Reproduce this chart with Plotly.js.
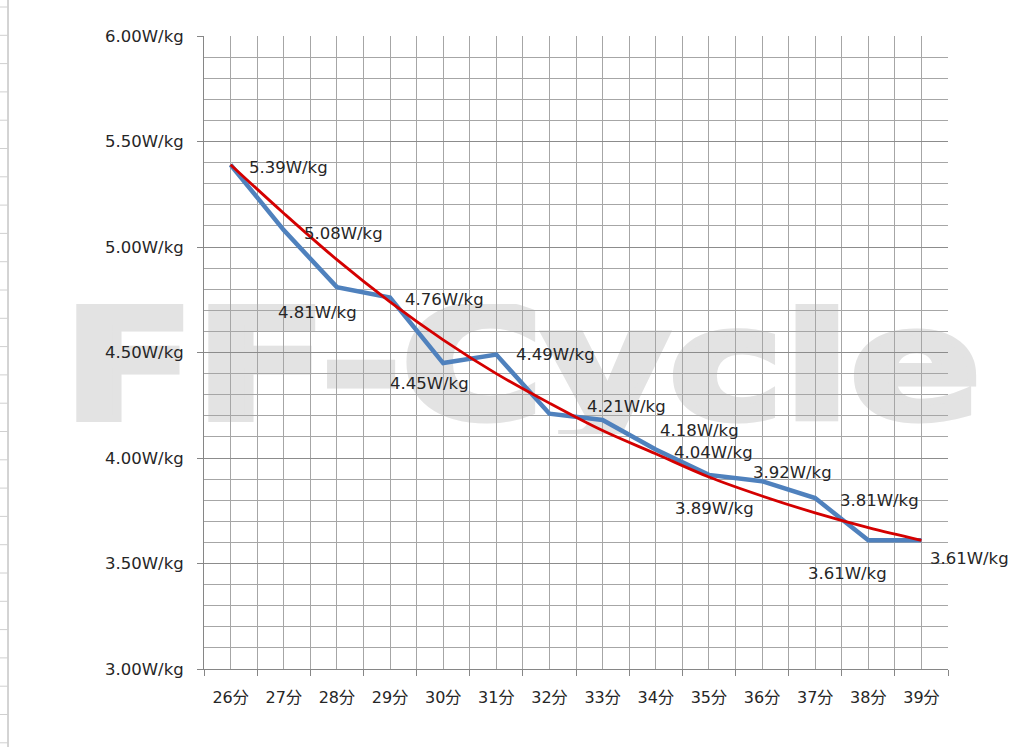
<!DOCTYPE html>
<html>
<head>
<meta charset="utf-8">
<script src="https://cdn.plot.ly/plotly-3.0.1.min.js"></script>
<style>
  html, body { margin: 0; padding: 0; background: #fff; }
  #chart { width: 1024px; height: 747px; }
</style>
</head>
<body>
<div id="chart"></div>
<script>
  // minutes on the x axis
  const categories = ['26分', '27分', '28分', '29分', '30分', '31分', '32分', '33分', '34分', '35分', '36分', '37分', '38分', '39分'];
  // measured power-to-weight (blue line)
  const powerValues = [5.39, 5.08, 4.81, 4.76, 4.45, 4.49, 4.21, 4.18, 4.04, 3.92, 3.89, 3.81, 3.61, 3.61];
  // trend curve
  const trendValues = [5.39, 5.16, 4.94, 4.74, 4.56, 4.40, 4.26, 4.13, 4.02, 3.91, 3.82, 3.74, 3.67, 3.61];
  // where each data label sits relative to its point (px right, px up)
  const labelShift = [
    [58, -3], [60, -3], [-19, -25], [54, -2], [-14, -20], [59, 0], [77, 7],
    [97, -10], [58, -3], [84, 2], [-48, -27], [64, -2], [-21, -33], [48, -18]
  ];

  const idx = categories.map((_, i) => i);
  const fontFamily = '"DejaVu Sans", "Noto Sans CJK JP", sans-serif';
  const textColor = '#262626';

  // plot box in pixels, used to place the decorations in paper units
  const box = { l: 204, r: 76, t: 36, b: 78, w: 1024, h: 747 };
  const plotW = box.w - box.l - box.r;
  const plotH = box.h - box.t - box.b;
  const px = (x) => (x - box.l) / plotW;
  const py = (y) => (box.h - box.b - y) / plotH;

  const watermark = 'data:image/svg+xml;charset=utf-8,' + encodeURIComponent(
    '<svg xmlns="http://www.w3.org/2000/svg" width="930" height="130">' +
    '<text x="3" y="114" textLength="918" lengthAdjust="spacingAndGlyphs" ' +
    'font-family="DejaVu Sans, Liberation Sans, sans-serif" font-weight="bold" font-size="154" ' +
    'fill="#e3e3e3" stroke="#e3e3e3" stroke-width="7" stroke-linejoin="miter">FF-Cycle</text>' +
    '</svg>'
  );

  const traces = [
    {
      x: idx,
      y: powerValues,
      type: 'scatter',
      mode: 'lines',
      line: { color: '#4F81BD', width: 4.5 },
      hoverinfo: 'skip'
    },
    {
      x: idx,
      y: trendValues,
      type: 'scatter',
      mode: 'lines',
      line: { color: '#D40000', width: 2.8, shape: 'spline', smoothing: 1 },
      hoverinfo: 'skip'
    }
  ];

  const annotations = powerValues.map((value, i) => ({
    x: i,
    y: value,
    xref: 'x',
    yref: 'y',
    text: value.toFixed(2) + 'W/kg',
    showarrow: false,
    xshift: labelShift[i][0],
    yshift: labelShift[i][1],
    font: { family: fontFamily, size: 16.5, color: textColor }
  }));

  // leftover spreadsheet lines at the left edge of the screenshot
  const shapes = [{
    type: 'line',
    xref: 'paper',
    yref: 'paper',
    x0: px(8), x1: px(8),
    y0: py(box.h), y1: py(0),
    line: { color: '#a8a8a8', width: 1 }
  }];
  for (let y = 7; y < box.h; y += 28.3) {
    shapes.push({
      type: 'line',
      xref: 'paper',
      yref: 'paper',
      x0: px(0), x1: px(8),
      y0: py(y), y1: py(y),
      line: { color: '#d0d0d0', width: 1 }
    });
  }

  const layout = {
    width: box.w,
    height: box.h,
    margin: { l: box.l, r: box.r, t: box.t, b: box.b },
    paper_bgcolor: '#ffffff',
    plot_bgcolor: 'rgba(0,0,0,0)',
    showlegend: false,
    font: { family: fontFamily, size: 16.5, color: textColor },
    xaxis: {
      type: 'linear',
      range: [-0.5, categories.length - 0.5],
      tickvals: idx,
      ticktext: categories,
      ticks: '',
      showgrid: true,
      gridcolor: '#a6a6a6',
      gridwidth: 1,
      minor: {
        tick0: -0.5,
        dtick: 1,
        ticks: 'outside',
        ticklen: 6,
        tickcolor: '#868686',
        showgrid: true,
        gridcolor: '#a6a6a6',
        gridwidth: 1
      },
      showline: true,
      linecolor: '#868686',
      linewidth: 1,
      zeroline: false,
      ticklabelstandoff: 14,
      tickfont: { family: fontFamily, size: 16, color: textColor },
      fixedrange: true
    },
    yaxis: {
      range: [3, 6],
      dtick: 0.5,
      tick0: 3,
      tickformat: '.2f',
      ticksuffix: 'W/kg',
      ticks: 'outside',
      ticklen: 6,
      tickcolor: '#868686',
      showgrid: true,
      gridcolor: '#8c8c8c',
      gridwidth: 1,
      minor: {
        dtick: 0.1,
        tick0: 3,
        showgrid: true,
        gridcolor: '#a6a6a6',
        gridwidth: 1
      },
      showline: true,
      linecolor: '#868686',
      linewidth: 1,
      zeroline: false,
      ticklabelstandoff: 10,
      tickfont: { family: fontFamily, size: 16.5, color: textColor },
      fixedrange: true
    },
    images: [{
      source: watermark,
      xref: 'paper',
      yref: 'paper',
      x: px(60),
      y: py(304),
      sizex: 930 / plotW,
      sizey: 130 / plotH,
      xanchor: 'left',
      yanchor: 'top',
      sizing: 'stretch',
      layer: 'below'
    }],
    shapes,
    annotations
  };

  Plotly.newPlot('chart', traces, layout, { displayModeBar: false, staticPlot: true });
</script>
</body>
</html>
